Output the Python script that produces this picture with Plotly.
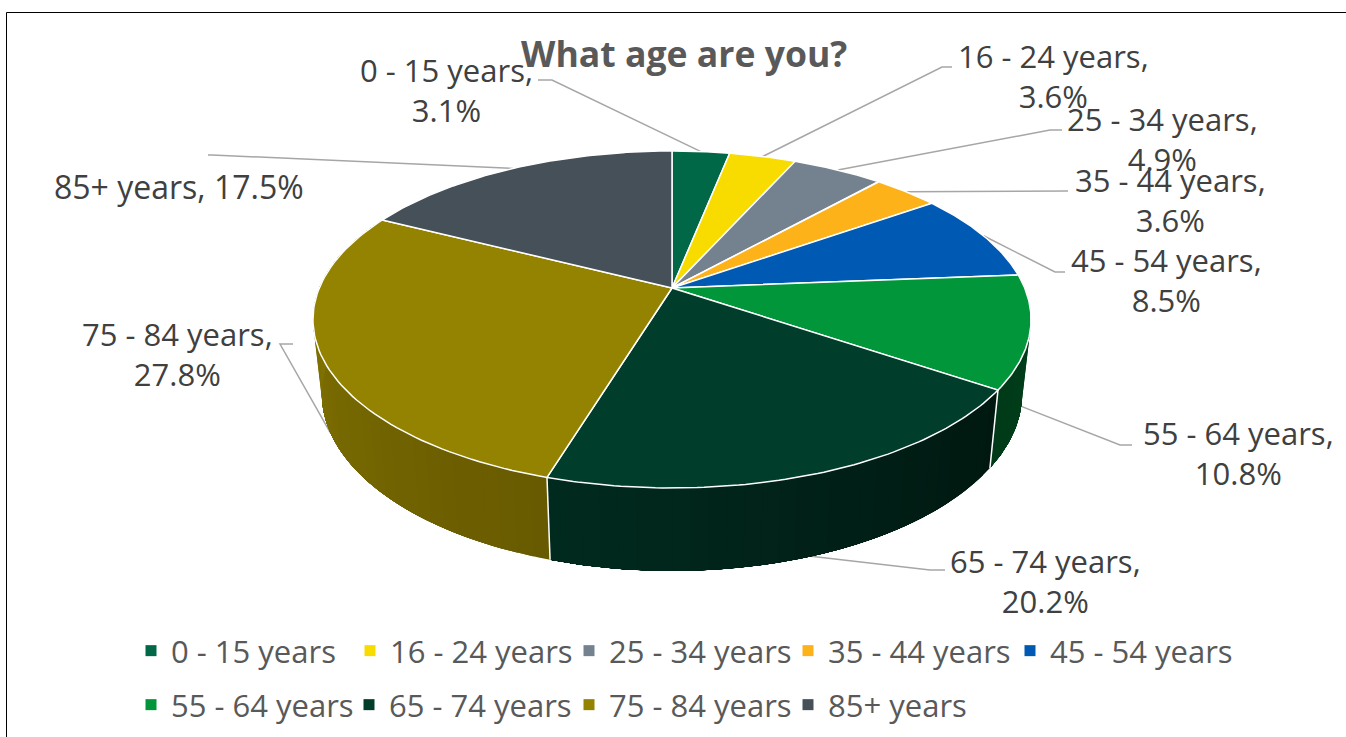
import numpy as np
import plotly.graph_objects as go

# ---------- data ----------
categories = ["0 - 15 years", "16 - 24 years", "25 - 34 years", "35 - 44 years", "45 - 54 years",
              "55 - 64 years", "65 - 74 years", "75 - 84 years", "85+ years"]
shares = [3.1, 3.6, 4.9, 3.6, 8.5, 10.8, 20.2, 27.8, 17.5]
colors = ["#006847", "#F8DC00", "#748290", "#FDB21A", "#0059B3", "#009639", "#003D2B", "#938300", "#455059"]
title_text = "What age are you?"

# ---------- style / layout ----------
FONT = "Open Sans"
W, H = 1346, 737
CX, CY = 672, 288
TOP_A, TOP_B, K = 352.7, 162.6, 0.187      # perspective of the upper disc
BOT_A, BOT_B, BOT_CY = 344.0, 171.0, 360.6  # perspective of the lower rim

# side shading: slice index -> (colour at start angle, colour at end angle)
side_shade = {5: ((0, 66, 28), (0, 58, 24)),
              6: ((0, 24, 16), (1, 42, 31)),
              7: ((104, 90, 0), (138, 124, 0))}

# label centre (x, y) and elbow of the leader (text end, bend)
label_pos = [(446, 90), (1053, 76), (1162, 139), (1170, 200), (1166, 280),
             (1238, 453), (1045, 581), (177, 354), (179, 186)]
leader_elbow = [((538, 80), (552, 80)), ((952, 67), (942, 67)), ((1062, 130), (1050, 130)),
                ((1068, 191), (1060, 191)), ((1065, 272), (1055, 272)), ((1132, 445), (1120, 445)),
                ((945, 570), (930, 570)), ((293, 344), (280, 344)), ((208, 155), (212, 155))]
anchor_on_bottom = {5, 6, 7}

# left edge of each legend entry and its row centre
legend_pos = [(131, 651), (350, 651), (569, 651), (788, 651), (1010, 651),
              (131, 705), (349, 705), (569, 705), (788, 705)]


def top_pt(theta):
    X, Y = np.sin(theta), np.cos(theta)
    w = 1 + K * Y
    return CX + TOP_A * X / w, CY - TOP_B * Y / w


def bot_pt(theta):
    X, Y = np.sin(theta), np.cos(theta)
    w = 1 + K * Y
    return CX + BOT_A * X / w, BOT_CY + BOT_B * (-Y) / w


cum = np.concatenate([[0], np.cumsum(shares)]) / sum(shares) * 2 * np.pi
fig = go.Figure()

# leaders (below the pie)
for i, (a, b) in enumerate(leader_elbow):
    mid = (cum[i] + cum[i + 1]) / 2
    px, py = bot_pt(mid) if i in anchor_on_bottom else top_pt(mid)
    fig.add_trace(go.Scatter(x=[a[0], b[0], px], y=[a[1], b[1], py], mode="lines",
                             line=dict(color="#A6A6A6", width=1.5), showlegend=False, hoverinfo="skip"))

# side walls: overlapping shaded polygons, each reaching the end of its slice
for i, (c0, c1) in side_shade.items():
    edges = np.linspace(cum[i], cum[i + 1], int((cum[i + 1] - cum[i]) / np.radians(2.5)) + 2)
    for j in range(len(edges) - 1):
        t = np.linspace(edges[j], cum[i + 1], 60)
        xt, yt = top_pt(t)
        xb, yb = bot_pt(t[::-1])
        f = j / max(1, len(edges) - 2)
        rgb = "rgb(%d,%d,%d)" % tuple(round(c0[k] + (c1[k] - c0[k]) * f) for k in range(3))
        fig.add_trace(go.Scatter(x=np.r_[xt, xb], y=np.r_[yt, yb], mode="lines", fill="toself",
                                 fillcolor=rgb, line=dict(width=0),
                                 showlegend=False, hoverinfo="skip"))

# white seams on the wall
for i in (6, 7):
    xt, yt = top_pt(cum[i])
    xb, yb = bot_pt(cum[i])
    fig.add_trace(go.Scatter(x=[xt, xb], y=[yt, yb], mode="lines",
                             line=dict(color="white", width=1.5), showlegend=False, hoverinfo="skip"))

# top wedges
for i, cat in enumerate(categories):
    t = np.linspace(cum[i], cum[i + 1], 80)
    xr, yr = top_pt(t)
    fig.add_trace(go.Scatter(x=np.r_[CX, xr, CX], y=np.r_[CY, yr, CY], mode="lines", fill="toself",
                             fillcolor=colors[i], line=dict(color="white", width=1.5),
                             name=cat, showlegend=False, hoverinfo="name"))

# legend entries: one small legend per category, placed on two rows
legends = {}
for i, cat in enumerate(categories):
    key = "legend" if i == 0 else f"legend{i + 1}"
    fig.add_trace(go.Scatter(x=[None], y=[None], mode="markers", name=cat,
                             marker=dict(symbol="square", size=11, color=colors[i]),
                             legend=key, showlegend=True))
    legends[key] = dict(orientation="h", xanchor="left", yanchor="middle",
                        x=legend_pos[i][0] / W, y=1 - legend_pos[i][1] / H,
                        font=dict(family=FONT, size=31, color="#595959"), bgcolor="rgba(0,0,0,0)",
                        itemclick=False, itemdoubleclick=False)

annotations = []
for i, cat in enumerate(categories):
    sep = " " if i == 8 else "<br>"
    annotations.append(dict(x=label_pos[i][0], y=label_pos[i][1], xref="x", yref="y",
                            text=f"{cat},{sep}{shares[i]}%", showarrow=False, align="center",
                            xanchor="center", yanchor="middle",
                            font=dict(family=FONT, size=32 if i == 8 else 31, color="#404040")))
annotations.append(dict(x=684, y=53, xref="x", yref="y", text=f"<b>{title_text}</b>", showarrow=False,
                        xanchor="center", yanchor="middle",
                        font=dict(family=FONT, size=35.6, color="#595959")))

fig.update_layout(
    width=W, height=H, margin=dict(l=0, r=0, t=0, b=0, autoexpand=False),
    paper_bgcolor="white", plot_bgcolor="white",
    xaxis=dict(range=[0, W], visible=False, fixedrange=True),
    yaxis=dict(range=[H, 0], visible=False, fixedrange=True),
    annotations=annotations,
    shapes=[dict(type="line", xref="x", yref="y", x0=6.5, y0=12.5, x1=W, y1=12.5, line=dict(color="black", width=1)),
            dict(type="line", xref="x", yref="y", x0=6.5, y0=12.5, x1=6.5, y1=H, line=dict(color="black", width=1))],
    **legends,
)
fig.write_html("out.html", config=dict(displayModeBar=False),
               post_script="document.body.style.margin='0';document.body.style.overflow='hidden';")
